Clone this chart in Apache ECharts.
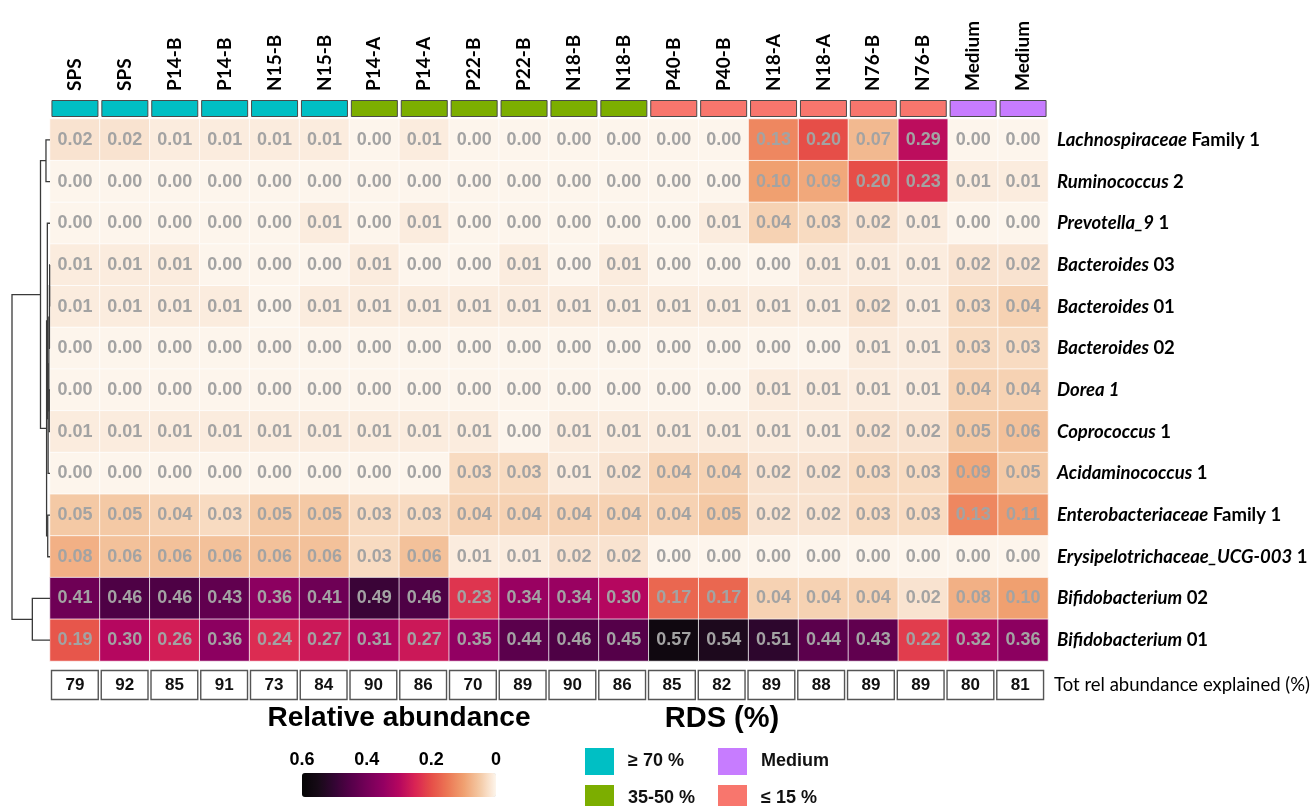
<!DOCTYPE html>
<html>
<head>
<meta charset="utf-8">
<script src="https://cdn.jsdelivr.net/npm/echarts@6/dist/echarts.min.js"></script>
<style>
html,body{margin:0;padding:0;background:#fff;}
#chart{width:1313px;height:806px;}
</style>
</head>
<body>
<div id="chart"></div>
<script>
// ---------- DATA ----------
const colLabels = ['SPS','SPS','P14-B','P14-B','N15-B','N15-B','P14-A','P14-A','P22-B','P22-B',
  'N18-B','N18-B','P40-B','P40-B','N18-A','N18-A','N76-B','N76-B','Medium','Medium'];
const colGroups = ['≥ 70 %','≥ 70 %','≥ 70 %','≥ 70 %','≥ 70 %','≥ 70 %',
  '35-50 %','35-50 %','35-50 %','35-50 %','35-50 %','35-50 %',
  '≤ 15 %','≤ 15 %','≤ 15 %','≤ 15 %','≤ 15 %','≤ 15 %','Medium','Medium'];
const groupNames = ['≥ 70 %','35-50 %','≤ 15 %','Medium'];

const rowTaxa = ['Lachnospiraceae','Ruminococcus','Prevotella_9','Bacteroides','Bacteroides','Bacteroides',
  'Dorea 1','Coprococcus','Acidaminococcus','Enterobacteriaceae','Erysipelotrichaceae_UCG-003',
  'Bifidobacterium','Bifidobacterium'];
const rowSuffix = [' Family 1',' 2',' 1',' 03',' 01',' 02','',' 1',' 1',' Family 1',' 1',' 02',' 01'];

const lachnospiraceaeF1 = [0.02,0.02,0.01,0.01,0.01,0.01,0.00,0.01,0.00,0.00,0.00,0.00,0.00,0.00,0.13,0.20,0.07,0.29,0.00,0.00];
const ruminococcus2     = [0.00,0.00,0.00,0.00,0.00,0.00,0.00,0.00,0.00,0.00,0.00,0.00,0.00,0.00,0.10,0.09,0.20,0.23,0.01,0.01];
const prevotella9       = [0.00,0.00,0.00,0.00,0.00,0.01,0.00,0.01,0.00,0.00,0.00,0.00,0.00,0.01,0.04,0.03,0.02,0.01,0.00,0.00];
const bacteroides03     = [0.01,0.01,0.01,0.00,0.00,0.00,0.01,0.00,0.00,0.01,0.00,0.01,0.00,0.00,0.00,0.01,0.01,0.01,0.02,0.02];
const bacteroides01     = [0.01,0.01,0.01,0.01,0.00,0.01,0.01,0.01,0.01,0.01,0.01,0.01,0.01,0.01,0.01,0.01,0.02,0.01,0.03,0.04];
const bacteroides02     = [0.00,0.00,0.00,0.00,0.00,0.00,0.00,0.00,0.00,0.00,0.00,0.00,0.00,0.00,0.00,0.00,0.01,0.01,0.03,0.03];
const dorea1            = [0.00,0.00,0.00,0.00,0.00,0.00,0.00,0.00,0.00,0.00,0.00,0.00,0.00,0.00,0.01,0.01,0.01,0.01,0.04,0.04];
const coprococcus1      = [0.01,0.01,0.01,0.01,0.01,0.01,0.01,0.01,0.01,0.00,0.01,0.01,0.01,0.01,0.01,0.01,0.02,0.02,0.05,0.06];
const acidaminococcus1  = [0.00,0.00,0.00,0.00,0.00,0.00,0.00,0.00,0.03,0.03,0.01,0.02,0.04,0.04,0.02,0.02,0.03,0.03,0.09,0.05];
const enterobacteriaceaeF1 = [0.05,0.05,0.04,0.03,0.05,0.05,0.03,0.03,0.04,0.04,0.04,0.04,0.04,0.05,0.02,0.02,0.03,0.03,0.13,0.11];
const erysipelotrichaceae1 = [0.08,0.06,0.06,0.06,0.06,0.06,0.03,0.06,0.01,0.01,0.02,0.02,0.00,0.00,0.00,0.00,0.00,0.00,0.00,0.00];
const bifidobacterium02 = [0.41,0.46,0.46,0.43,0.36,0.41,0.49,0.46,0.23,0.34,0.34,0.30,0.17,0.17,0.04,0.04,0.04,0.02,0.08,0.10];
const bifidobacterium01 = [0.19,0.30,0.26,0.36,0.24,0.27,0.31,0.27,0.35,0.44,0.46,0.45,0.57,0.54,0.51,0.44,0.43,0.22,0.32,0.36];

const totRelAbundance = [79,92,85,91,73,84,90,86,70,89,90,86,85,82,89,88,89,89,80,81];

// hierarchical clustering of rows: [childA, childB, height]; rK = row K, mK = merge K
const dendroMerges = [
  ['r3','r4',0.010],
  ['m0','r5',0.015],
  ['r6','r7',0.020],
  ['m1','m2',0.030],
  ['m3','r8',0.050],
  ['r2','m4',0.070],
  ['r9','r10',0.060],
  ['m5','m6',0.090],
  ['r0','r1',0.106],
  ['m8','m7',0.250],
  ['r11','r12',0.465],
  ['m9','m10',1.000]
];

// ---------- BUILD ----------
const rows = [lachnospiraceaeF1, ruminococcus2, prevotella9, bacteroides03, bacteroides01, bacteroides02,
  dorea1, coprococcus1, acidaminococcus1, enterobacteriaceaeF1, erysipelotrichaceae1, bifidobacterium02, bifidobacterium01];
const rowKeys = rowTaxa.map((t,i)=> t + '|' + rowSuffix[i]);
const heatData = [];
rows.forEach((r, ri) => r.forEach((v, ci) => heatData.push([ci, ri, v])));

const nodeInfo = {};
function info(id){
  if (id[0] === 'r') return {h:0, p:+id.slice(1)};
  if (nodeInfo[id]) return nodeInfo[id];
  const m = dendroMerges[+id.slice(1)];
  const a = info(m[0]), b = info(m[1]);
  return nodeInfo[id] = {h:m[2], p:(a.p+b.p)/2};
}
const dendroLines = dendroMerges.map(m => {
  const a = info(m[0]), b = info(m[1]);
  return {coords: [[a.h, a.p],[m[2], a.p],[m[2], b.p],[b.h, b.p]]};
});

const groupColors = {'≥ 70 %':'#00BFC4','35-50 %':'#7CAE00','≤ 15 %':'#F8766D','Medium':'#C77CFF'};
const annSeries = groupNames.map(g => ({
  type:'bar', name:g, xAxisIndex:0, yAxisIndex:0, stack:'ann',
  barWidth:47,
  data: colGroups.map(cg => cg === g ? 1 : '-'),
  itemStyle:{color:groupColors[g], borderColor:'#4a4a4a', borderWidth:1},
  silent:true
}));

const sans = '"Liberation Sans", Arial, sans-serif';
const G = {left:50, width:998};
const legendBase = {orient:'vertical', top:748, height:80, padding:0, itemWidth:29, itemHeight:27, itemGap:10,
  icon:'rect', itemStyle:{borderWidth:0}, selectedMode:false,
  textStyle:{fontFamily:sans, fontWeight:'bold', fontSize:18, color:'#111', padding:[0,0,0,9]}};

const option = {
  animation:false,
  backgroundColor:'#fff',
  title:[
    {text:'Relative abundance', left:399, top:704, textAlign:'center', padding:0,
     textStyle:{fontFamily:sans, fontWeight:'bold', fontSize:28, color:'#000'}},
    {text:'RDS (%)', left:722, top:704, textAlign:'center', padding:0,
     textStyle:{fontFamily:sans, fontWeight:'bold', fontSize:29, color:'#000'}}
  ],
  legend:[
    Object.assign({}, legendBase, {data:['≥ 70 %','35-50 %'], left:585}),
    Object.assign({}, legendBase, {data:['Medium','≤ 15 %'], left:718})
  ],
  visualMap:{
    type:'continuous', min:0, max:0.6, seriesIndex:4, calculable:false, hoverLink:false,
    orient:'horizontal', inverse:true, left:302, top:773, itemWidth:24, itemHeight:194, padding:0,
    text:null, showLabel:false,
    inRange:{color:['#FDF5EC','#F4C9A5','#F0A070','#EC7755','#E64E48','#D92454','#B5075F',
                    '#920062','#740058','#550049','#330533','#170A17','#050505']}
  },
  grid:[
    {left:G.left, width:G.width, top:100, height:17},
    {left:G.left, width:G.width, top:119, height:542},
    {left:G.left, width:G.width, top:670, height:30},
    {left:12, width:38, top:119, height:542},
    {left:302, width:194, top:773, height:24}
  ],
  xAxis:[
    {gridIndex:0, type:'category', position:'top', data:colLabels.map((c,i)=>String(i)),
     axisLine:{show:false}, axisTick:{show:false},
     axisLabel:{interval:0, rotate:90, margin:9, formatter:(v,i)=>colLabels[i],
       fontFamily:'Lato', fontWeight:'bold', fontSize:19, color:'#000'}},
    {gridIndex:1, type:'category', data:colLabels.map((c,i)=>String(i)), show:false},
    {gridIndex:2, type:'category', data:colLabels.map((c,i)=>String(i)), show:false},
    {gridIndex:3, type:'value', min:0, max:1, inverse:true, show:false},
    {gridIndex:4, type:'value', min:0, max:0.6, interval:0.2, inverse:true, position:'top', z:10,
     axisLine:{show:false}, splitLine:{show:false},
     axisTick:{show:true, inside:true, length:4, lineStyle:{color:'#fff', width:1.5}},
     axisLabel:{margin:4, fontFamily:sans, fontWeight:'bold', fontSize:18, color:'#000',
       formatter:v=> (Math.abs(v)<1e-9 ? '0' : v.toFixed(1))}}
  ],
  yAxis:[
    {gridIndex:0, type:'value', min:0, max:1, show:false},
    {gridIndex:1, type:'category', data:rowKeys, inverse:true, position:'right',
     axisLine:{show:false}, axisTick:{show:false},
     axisLabel:{interval:0, margin:9, align:'left',
       formatter:v=>{const p=v.split('|'); return '{i|'+p[0]+'}' + (p[1] ? '{n|'+p[1]+'}' : '');},
       rich:{
         i:{fontFamily:'Lato', fontStyle:'italic', fontWeight:'bold', fontSize:18.5, color:'#000'},
         n:{fontFamily:'Lato', fontWeight:'bold', fontSize:18.5, color:'#000'}
       }}},
    {gridIndex:2, type:'category', data:['Tot rel abundance explained (%)'], position:'right',
     axisLine:{show:false}, axisTick:{show:false},
     axisLabel:{margin:9, fontFamily:'Lato', fontSize:18.5, color:'#000'}},
    {gridIndex:3, type:'value', min:-0.5, max:12.5, inverse:true, show:false},
    {gridIndex:4, type:'value', min:0, max:1, show:false}
  ],
  series:[
    ...annSeries,
    {
      type:'heatmap', xAxisIndex:1, yAxisIndex:1, data:heatData,
      itemStyle:{borderColor:'rgba(255,255,255,0.75)', borderWidth:1},
      label:{show:true, formatter:p=>p.value[2].toFixed(2), color:'#A3A3A3',
        fontFamily:sans, fontWeight:'bold', fontSize:18},
      emphasis:{disabled:true}, silent:true
    },
    {
      type:'custom', xAxisIndex:2, yAxisIndex:2,
      data: totRelAbundance.map((v,i)=>[i,0,v]),
      encode:{x:0, y:1},
      renderItem:(params, api)=>{
        const c = api.coord([api.value(0), api.value(1)]);
        const s = api.size([1,1]);
        return {
          type:'rect',
          shape:{x:c[0]-s[0]/2+1.5, y:c[1]-s[1]/2+0.5, width:s[0]-3, height:s[1]-1},
          style:{fill:'#fff', stroke:'#555', lineWidth:1.4},
          textContent:{style:{text:String(api.value(2)), fontFamily:sans, fontWeight:'bold', fontSize:17, fill:'#111'}},
          textConfig:{position:'inside'}
        };
      },
      silent:true
    },
    {
      type:'lines', coordinateSystem:'cartesian2d', xAxisIndex:3, yAxisIndex:3,
      polyline:true, data:dendroLines,
      lineStyle:{color:'#3a3a3a', width:1.3, opacity:1}, silent:true
    }
  ]
};

const chart = echarts.init(document.getElementById('chart'), null, {renderer:'canvas'});
chart.setOption(option);
</script>
</body>
</html>
